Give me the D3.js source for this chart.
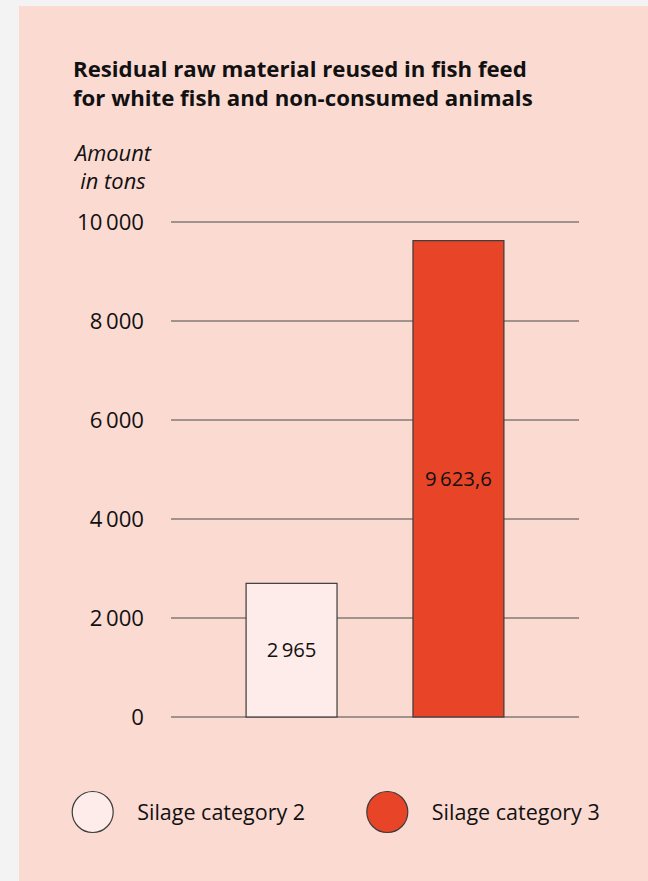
<!DOCTYPE html>
<html>
<head>
<meta charset="utf-8">
<script src="https://cdn.jsdelivr.net/npm/d3@7"></script>
<style>
  html, body { margin: 0; padding: 0; background: #f3f3f3; }
  svg { display: block; font-family: "Open Sans", Lato, sans-serif; }
</style>
</head>
<body>
<svg id="chart" width="648" height="881"></svg>
<script>
const categories = ["Silage category 2", "Silage category 3"];
const values = [2700, 9623.6];
const valueLabels = ["2\u2009965", "9\u2009623,6"];
const colors = ["#feecea", "#e84427"];
const yTicks = [0, 2000, 4000, 6000, 8000, 10000];
const titleLines = ["Residual raw material reused in fish feed", "for white fish and non-consumed animals"];
const axisTitle = ["Amount", "in tons"];

const W = 648, H = 881;
const svg = d3.select("#chart");

// scale a group's font so that one sample text hits the width
function fitFont(sel, sampleIndex, targetWidth) {
  const node = sel.nodes()[sampleIndex];
  const size = parseFloat(node.getAttribute("font-size"));
  const w = node.getComputedTextLength();
  sel.attr("font-size", (size * targetWidth / w).toFixed(2) + "px");
}

// panel
svg.append("rect")
  .attr("x", 19).attr("y", 6)
  .attr("width", W - 19).attr("height", H - 6)
  .attr("fill", "#fbdad2");

// title
const title = svg.append("g").selectAll("text")
  .data(titleLines)
  .enter().append("text")
  .attr("x", 73)
  .attr("y", (d, i) => 77 + i * 29)
  .attr("font-size", "20")
  .attr("font-weight", 700)
  .attr("fill", "#111")
  .text(d => d);
fitFont(title, 0, 454);

// axis title
const axisText = svg.append("g").selectAll("text")
  .data(axisTitle)
  .enter().append("text")
  .attr("x", 113)
  .attr("y", (d, i) => 160.5 + i * 28)
  .attr("text-anchor", "middle")
  .attr("font-size", "20")
  .attr("font-style", "italic")
  .attr("fill", "#111")
  .text(d => d);
fitFont(axisText, 0, 76);

const y = d3.scaleLinear().domain([0, 10000]).range([717, 222]);
const x = d3.scaleBand().domain(categories).range([171, 579]).paddingInner(0.455).paddingOuter(0.45);

const fmt = v => d3.format(",")(v).replace(/,/g, "\u2009");

// gridlines
svg.append("g").selectAll("line")
  .data(yTicks)
  .enter().append("line")
  .attr("x1", 171).attr("x2", 579)
  .attr("y1", d => y(d)).attr("y2", d => y(d))
  .attr("stroke", "#4a4a4a")
  .attr("stroke-width", 1.2);

// tick labels
const ticks = svg.append("g").selectAll("text")
  .data(yTicks)
  .enter().append("text")
  .attr("x", 144)
  .attr("y", d => y(d))
  .attr("dy", "0.36em")
  .attr("text-anchor", "end")
  .attr("font-size", "20")
  .attr("fill", "#111")
  .text(d => fmt(d));
fitFont(ticks, 5, 67);

// bars
svg.append("g").selectAll("rect")
  .data(values)
  .enter().append("rect")
  .attr("x", (d, i) => x(categories[i]))
  .attr("y", d => y(d))
  .attr("width", x.bandwidth())
  .attr("height", d => y(0) - y(d))
  .attr("fill", (d, i) => colors[i])
  .attr("stroke", "#3c3c3c")
  .attr("stroke-width", 1.2);

// value labels
const valText = svg.append("g").selectAll("text")
  .data(values)
  .enter().append("text")
  .attr("x", (d, i) => x(categories[i]) + x.bandwidth() / 2)
  .attr("y", d => (y(d) + y(0)) / 2)
  .attr("dy", "0.36em")
  .attr("text-anchor", "middle")
  .attr("font-size", "20")
  .attr("fill", "#111")
  .text((d, i) => valueLabels[i]);
fitFont(valText, 1, 66.7);

// legend
const legendX = [92.7, 387.3];
const legend = svg.append("g").selectAll("g")
  .data(categories)
  .enter().append("g")
  .attr("transform", (d, i) => `translate(${legendX[i]},812)`);

legend.append("circle")
  .attr("r", 20.5)
  .attr("fill", (d, i) => colors[i])
  .attr("stroke", "#3c3c3c")
  .attr("stroke-width", 1.2);

const legText = legend.append("text")
  .attr("x", 44.5)
  .attr("dy", "0.36em")
  .attr("font-size", "20")
  .attr("fill", "#111")
  .text(d => d);
fitFont(legText, 0, 168);
</script>
</body>
</html>
